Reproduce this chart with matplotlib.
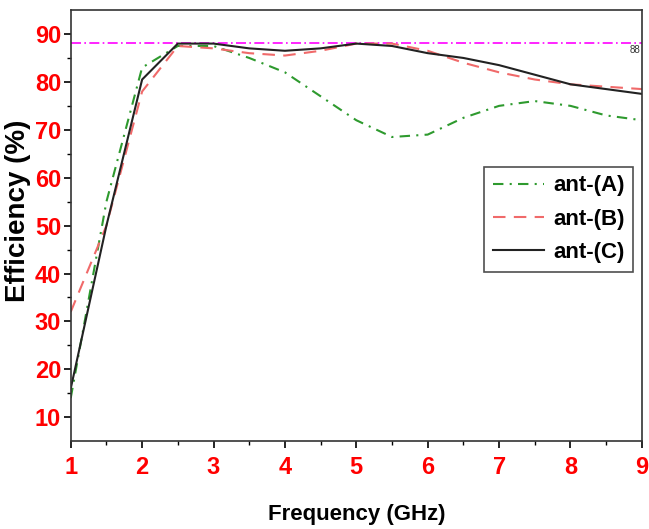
import numpy as np
import matplotlib.pyplot as plt

freq = [1, 1.5, 2, 2.5, 3, 3.5, 4, 4.5, 5, 5.5, 6, 6.5, 7, 7.5, 8, 8.5, 9]
eff_a = [14, 55, 83, 87.5, 87.5, 85, 82, 77, 72, 68.5, 69, 72.5, 75, 76, 75, 73, 72]
eff_b = [32, 50, 78, 87.5, 87, 86, 85.5, 86.5, 88, 88, 86.5, 84, 82, 80.5, 79.5, 79, 78.5]
eff_c = [16, 50, 80.5, 88, 88, 87, 86.5, 87, 88, 87.5, 86, 85, 83.5, 81.5, 79.5, 78.5, 77.5]
ref_level = 88.2

plt.rcParams['font.family'] = ['Liberation Sans', 'DejaVu Sans']

fig = plt.figure(figsize=(6.49, 5.29), dpi=100)
ax = fig.add_axes([0.109, 0.166, 0.880, 0.815])

ax.axhline(ref_level, color='#ff00ff', lw=1.2, ls=(0, (6, 2, 1, 2)))
ax.plot(freq, eff_a, color='#2e9a2e', lw=1.5, ls=(0, (5, 3, 1, 3)), label='ant-(A)')
ax.plot(freq, eff_b, color='#f06a6a', lw=1.5, ls=(0, (6, 4)), label='ant-(B)')
ax.plot(freq, eff_c, color='#222222', lw=1.5, label='ant-(C)')
ax.text(8.98, ref_level - 0.6, '88', fontsize=7, color='#333333', va='top', ha='right')

ax.set_xlim(1, 9)
ax.set_ylim(5, 95)
ax.set_xticks(range(1, 10))
ax.set_yticks(range(10, 91, 10))
ax.set_xticks(np.arange(1.5, 9, 1), minor=True)
ax.set_yticks(range(15, 95, 10), minor=True)
ax.tick_params(which='major', direction='out', length=5, width=1.2,
               labelsize=17, labelcolor='red', pad=2)
ax.tick_params(axis='x', which='major', pad=6)
ax.tick_params(which='minor', direction='out', length=3, width=1)
for lab in ax.get_xticklabels() + ax.get_yticklabels():
    lab.set_fontweight('bold')
for s in ax.spines.values():
    s.set_linewidth(1.2)
    s.set_color('#333333')

ax.set_xlabel('Frequency (GHz)', fontsize=16, fontweight='bold', labelpad=18)
ax.set_ylabel('Efficiency (%)', fontsize=20, fontweight='bold')
ax.yaxis.set_label_coords(-0.07, 0.535)

leg = ax.legend(loc='center right', bbox_to_anchor=(0.985, 0.515),
                prop={'weight': 'bold', 'size': 16}, frameon=True, fancybox=False,
                handlelength=2.3, borderpad=0.4, labelspacing=0.55, handletextpad=0.4,
                borderaxespad=0)
leg.get_frame().set_edgecolor('#222222')
leg.get_frame().set_linewidth(1.2)

fig.savefig('out.png', dpi=100)
